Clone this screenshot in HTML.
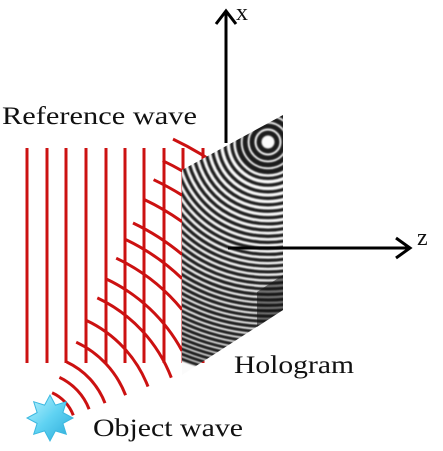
<!DOCTYPE html>
<html><head><meta charset="utf-8"><style>
html,body{margin:0;padding:0;background:#fff}
svg{display:block}
text{font-family:"Liberation Serif",serif;fill:#111}
</style></head><body>
<svg id="fig" width="443" height="451" viewBox="0 0 443 451">
<defs>
<clipPath id="holoClip"><polygon points="182,170 283,115 283,310 182,375"/></clipPath>
<filter id="blur" x="-5%" y="-5%" width="110%" height="110%"><feGaussianBlur stdDeviation="0.8"/></filter>
<linearGradient id="starGrad" x1="0" y1="0" x2="1" y2="1"><stop offset="0" stop-color="#bff3ff"/><stop offset="0.5" stop-color="#5fd2f2"/><stop offset="1" stop-color="#2aa9d8"/></linearGradient>
</defs>
<g id="refLines"></g>
<g id="objArcs"></g>
<g>
<polygon points="182,170 283,115 283,310 182,375" fill="#fbfbfb"/>
<g id="fringes" clip-path="url(#holoClip)" filter="url(#blur)"></g>
<polygon points="257,292 283,275 283,310 257,327" fill="#111" opacity="0.55"/>
</g>
<g>
<line x1="226" y1="143" x2="226" y2="12" stroke="#000" stroke-width="3"/>
<polyline points="216,24 226,11 236,24" fill="none" stroke="#000" stroke-width="3"/>
</g>
<text x="236" y="20" font-size="24" textLength="13">x</text>
<g>
<line x1="228" y1="248" x2="410" y2="248" stroke="#000" stroke-width="3"/>
<polyline points="396,238 410,248 396,258" fill="none" stroke="#000" stroke-width="3"/>
</g>
<text x="417" y="245" font-size="24" textLength="14">z</text>
<text x="2" y="124" font-size="25" textLength="195" lengthAdjust="spacingAndGlyphs">Reference wave</text>
<text x="234" y="373" font-size="25" textLength="120" lengthAdjust="spacingAndGlyphs">Hologram</text>
<text x="93" y="436" font-size="25" textLength="150" lengthAdjust="spacingAndGlyphs">Object wave</text>
<polygon id="star" fill="url(#starGrad)" stroke="#3bb8e0" stroke-width="1"/>
</svg>
<script>
const refX=[27,47,66,86,106,125,144,164,183,203];
const arcR=[41,58,75,97,121,146,167,190,211,229,255,277,298,322];
const NS='http://www.w3.org/2000/svg';
const cx=35,cy=430,red='#cc1111';
const gRef=document.getElementById('refLines');
refX.forEach(x=>{
  const l=document.createElementNS(NS,'line');
  
  
  l.setAttribute('x1',x);l.setAttribute('x2',x);l.setAttribute('y1',148);l.setAttribute('y2',363);
  l.setAttribute('stroke',red);l.setAttribute('stroke-width',3);
  gRef.appendChild(l);
});
const gArc=document.getElementById('objArcs');
arcR.forEach(r=>{
  const t=(r-41)/(322-41);
  const sx=52+t*(173-52), sy0=393+t*(139-393);
  const a0=Math.atan2(sy0-cy,sx-cx);
  let a1=-21*Math.PI/180;
  const xmax=r>310?228:182;
  if(cx+r*Math.cos(a1)>xmax){a1=-Math.acos((xmax-cx)/r);}
  const p0=[cx+r*Math.cos(a0),cy+r*Math.sin(a0)],p1=[cx+r*Math.cos(a1),cy+r*Math.sin(a1)];
  const p=document.createElementNS(NS,'path');
  
  
  p.setAttribute('d',`M${p0[0].toFixed(1)},${p0[1].toFixed(1)} A${r},${r} 0 0 1 ${p1[0].toFixed(1)},${p1[1].toFixed(1)}`);
  p.setAttribute('fill','none');p.setAttribute('stroke',red);p.setAttribute('stroke-width',3);
  gArc.appendChild(p);
});
const gF=document.getElementById('fringes');
const fx=268,fy=142;
for(let n=0;n<40;n++){
  const r=9+7*n*Math.pow(0.995,n);
  const c=document.createElementNS(NS,'circle');
  
  
  c.setAttribute('cx',fx);c.setAttribute('cy',fy);c.setAttribute('r',r.toFixed(1));
  c.setAttribute('fill','none');c.setAttribute('stroke','#1a1a1a');c.setAttribute('stroke-width',n<4?5:3.3);
  gF.appendChild(c);
}
const st=document.getElementById('star');
let pts=[];
for(let i=0;i<16;i++){const ang=-Math.PI/2+i*Math.PI/8;const rr=i%2?14:23;pts.push((50+rr*Math.cos(ang)).toFixed(1)+','+(418+rr*Math.sin(ang)).toFixed(1));}
st.setAttribute('points',pts.join(' '));
</script>
</body></html>
